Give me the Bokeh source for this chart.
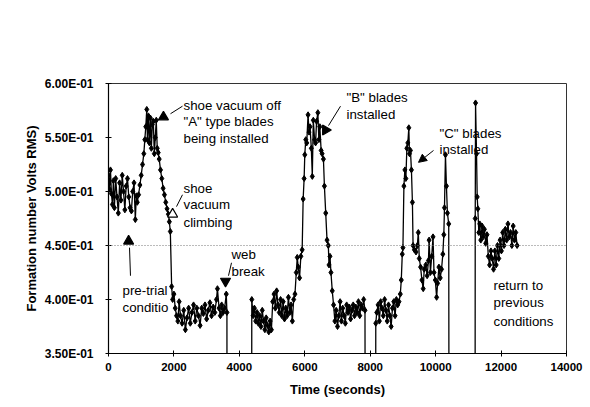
from bokeh.plotting import figure
from bokeh.models import (Range1d, FixedTicker, CustomJSTickFormatter, Span, ColumnDataSource,
                          Label, Arrow, NormalHead)
from bokeh.embed import file_html
from bokeh.resources import INLINE
import math

# ---------------- data (time in seconds, formation number in Volts RMS) ----------------
pretrial_t = [0, 30, 60, 90, 120, 150, 180, 220, 260, 300, 340, 380, 420, 460, 500, 540, 580,
              620, 660, 700, 740, 780, 820, 850, 880]
pretrial_v = [0.515, 0.502, 0.520, 0.498, 0.488, 0.510, 0.485, 0.512, 0.495, 0.480, 0.508, 0.492,
              0.515, 0.500, 0.483, 0.505, 0.512, 0.495, 0.485, 0.482, 0.500, 0.508, 0.474, 0.496, 0.490]

blades_a_t = [920, 960, 1000, 1040, 1080, 1110, 1140, 1170, 1190, 1220, 1250, 1280, 1310, 1340,
              1370, 1400, 1430, 1460, 1490, 1520, 1550, 1590, 1630, 1670, 1710, 1750, 1790, 1830,
              1860, 1890]
blades_a_v = [0.497, 0.506, 0.515, 0.525, 0.535, 0.548, 0.560, 0.576, 0.548, 0.570, 0.545, 0.568,
              0.540, 0.562, 0.565, 0.535, 0.550, 0.566, 0.540, 0.536, 0.530, 0.520, 0.512, 0.503,
              0.497, 0.490, 0.484, 0.479, 0.472, 0.463]

climb_t = [1930, 1960, 2000, 2040, 2080, 2120, 2160, 2200, 2250, 2300, 2350, 2400, 2450, 2500,
           2550, 2600, 2650, 2700, 2750, 2800, 2850, 2900, 2950, 3000, 3050, 3100, 3150, 3200,
           3250, 3300, 3330, 3380, 3420, 3460, 3500, 3550, 3600, 3620, 3630]
climb_v = [0.412, 0.400, 0.405, 0.392, 0.385, 0.380, 0.398, 0.385, 0.378, 0.390, 0.372, 0.383,
           0.392, 0.378, 0.388, 0.395, 0.380, 0.392, 0.385, 0.376, 0.392, 0.387, 0.395, 0.382,
           0.390, 0.397, 0.385, 0.393, 0.388, 0.400, 0.410, 0.392, 0.385, 0.395, 0.388, 0.392,
           0.405, 0.388, 0.0]

restart_t = [4370, 4380, 4420, 4460, 4500, 4540, 4580, 4620, 4660, 4700, 4740, 4780, 4820, 4860,
             4900, 4940, 4980, 5020, 5060, 5100, 5140, 5180, 5220, 5260, 5300, 5340, 5380, 5420,
             5460, 5500, 5540, 5580, 5620, 5660, 5700, 5740, 5770, 5800, 5840, 5880, 5920, 5950]
restart_v = [0.0, 0.400, 0.385, 0.392, 0.380, 0.388, 0.378, 0.385, 0.375, 0.390, 0.380, 0.372,
             0.383, 0.376, 0.370, 0.380, 0.372, 0.398, 0.405, 0.392, 0.408, 0.395, 0.388, 0.400,
             0.385, 0.398, 0.382, 0.392, 0.385, 0.402, 0.388, 0.395, 0.380, 0.400, 0.405, 0.425,
             0.439, 0.430, 0.420, 0.440, 0.446, 0.493]

blades_b_t = [5980, 6000, 6030, 6060, 6100, 6130, 6160, 6200, 6230, 6260, 6300, 6330, 6360, 6400,
              6430, 6460, 6500, 6530, 6570, 6600, 6640, 6680, 6720, 6740, 6770, 6800, 6840, 6880,
              6920, 6960, 7000]
blades_b_v = [0.512, 0.534, 0.548, 0.545, 0.571, 0.555, 0.560, 0.540, 0.514, 0.566, 0.548, 0.545,
              0.565, 0.573, 0.548, 0.560, 0.538, 0.535, 0.530, 0.505, 0.480, 0.455, 0.450, 0.432,
              0.440, 0.425, 0.408, 0.395, 0.380, 0.390, 0.375]

settle_t = [7040, 7080, 7120, 7160, 7200, 7240, 7280, 7320, 7360, 7400, 7440, 7480, 7520, 7560,
            7600, 7640, 7680, 7720, 7760, 7800, 7840, 7860]
settle_v = [0.385, 0.398, 0.380, 0.392, 0.385, 0.378, 0.395, 0.388, 0.393, 0.382, 0.390, 0.395,
            0.385, 0.393, 0.388, 0.398, 0.385, 0.395, 0.392, 0.400, 0.390, 0.0]

blades_c_t = [8160, 8170, 8200, 8240, 8280, 8320, 8360, 8400, 8440, 8480, 8520, 8560, 8600, 8640,
              8680, 8720, 8760, 8800, 8840, 8880, 8920, 8950, 8980, 9000, 9030, 9060, 9090, 9120,
              9150, 9180, 9200, 9230, 9260, 9290, 9310, 9350, 9400, 9440, 9470, 9500, 9540, 9580,
              9620, 9650, 9700, 9740, 9780, 9800, 9840, 9880, 9920, 9950, 9990, 10030, 10060,
              10100, 10140, 10180, 10220, 10250, 10270, 10300, 10330, 10360, 10400, 10420]
blades_c_v = [0.0, 0.378, 0.388, 0.395, 0.380, 0.398, 0.392, 0.385, 0.400, 0.390, 0.380, 0.395,
              0.385, 0.375, 0.392, 0.398, 0.385, 0.400, 0.395, 0.398, 0.405, 0.418, 0.442, 0.448,
              0.505, 0.520, 0.512, 0.540, 0.545, 0.559, 0.535, 0.538, 0.520, 0.490, 0.450, 0.446,
              0.444, 0.450, 0.462, 0.438, 0.430, 0.418, 0.410, 0.428, 0.432, 0.422, 0.436, 0.455,
              0.425, 0.440, 0.458, 0.425, 0.418, 0.402, 0.415, 0.430, 0.420, 0.428, 0.442, 0.460,
              0.485, 0.534, 0.505, 0.480, 0.470, 0.0]

return_t = [11200, 11210, 11220, 11250, 11270, 11290, 11320, 11350, 11380, 11420, 11450, 11490,
            11530, 11570, 11610, 11650, 11690, 11730, 11770, 11810, 11850, 11890, 11930, 11970,
            12010, 12050, 12090, 12130, 12170, 12210, 12250, 12290, 12330, 12370, 12410, 12450,
            12490]
return_v = [0.0, 0.475, 0.582, 0.535, 0.495, 0.484, 0.462, 0.470, 0.455, 0.468, 0.458, 0.465,
            0.452, 0.460, 0.440, 0.432, 0.445, 0.438, 0.428, 0.445, 0.432, 0.450, 0.438, 0.455,
            0.445, 0.462, 0.450, 0.465, 0.455, 0.470, 0.458, 0.462, 0.450, 0.468, 0.455, 0.462,
            0.450]

x_ticks = [0, 2000, 4000, 6000, 8000, 10000, 12000, 14000]
y_ticks = [0.35, 0.40, 0.45, 0.50, 0.55, 0.60]

# annotation markers
marker_t = [1680, 1960, 615, 3577, 6634]
marker_v = [0.569, 0.479, 0.454, 0.417, 0.557]
marker_angle = [0.0, 0.0, 0.0, math.pi, -math.pi / 2]
marker_fill = ["black", "white", "black", "black", "black"]

# leader lines from markers to notes
lead_t0 = [1895, 2079, 642, 3668, 6725]
lead_v0 = [0.572, 0.486, 0.448, 0.422, 0.561]
lead_t1 = [2262, 2262, 672, 3760, 7092]
lead_v1 = [0.579, 0.497, 0.422, 0.434, 0.579]

note_text = ["shoe vacuum off", '"A" type blades', "being installed",
             "shoe", "vacuum", "climbing",
             "pre-trial", "conditio",
             "web", "break",
             '"B" blades', "installed",
             '"C" blades', "installed",
             "return to", "previous", "conditions"]
note_t = [2293, 2293, 2293, 2293, 2293, 2293, 428, 428, 3760, 3760, 7275, 7275,
          10118, 10118, 11769, 11769, 11769]
note_v = [0.580, 0.565, 0.549, 0.503, 0.488, 0.471, 0.408, 0.393, 0.442, 0.426, 0.587, 0.571,
          0.554, 0.539, 0.413, 0.397, 0.380]

# ---------------- figure ----------------
FONT = "Liberation Sans"

p = figure(width=590, height=407, output_backend="svg", toolbar_location=None,
           x_range=Range1d(0, 14000), y_range=Range1d(0.35, 0.60),
           min_border_left=108, min_border_right=24, min_border_top=83, min_border_bottom=54)
p.background_fill_color = "white"
p.border_fill_color = "white"
p.outline_line_color = "#333333"
p.outline_line_width = 1
p.xgrid.visible = False
p.ygrid.visible = False

t_all = (pretrial_t + blades_a_t + climb_t + restart_t + blades_b_t + settle_t
         + blades_c_t + return_t)
v_all = (pretrial_v + blades_a_v + climb_v + restart_v + blades_b_v + settle_v
         + blades_c_v + return_v)
src = ColumnDataSource(dict(t=t_all, v=v_all))

p.add_layout(Span(location=0.45, dimension="width", line_color="#777777",
                  line_dash="1 2", line_width=1))

p.line("t", "v", source=src, line_color="black", line_width=1.3)
p.scatter("t", "v", source=src, marker="diamond", size=6, fill_color="black",
          line_color="black")

p.segment(x0=lead_t0, y0=lead_v0, x1=lead_t1, y1=lead_v1, line_color="black", line_width=1)
p.scatter(x=marker_t, y=marker_v, marker="triangle", size=10, angle=marker_angle,
          fill_color=marker_fill, line_color="black", line_width=1.2)

p.add_layout(Arrow(end=NormalHead(size=8, fill_color="black", line_color="black"),
                   x_start=9935, y_start=0.538, x_end=9476, y_end=0.527,
                   line_color="black", line_width=1))

for txt, tx, ty in zip(note_text, note_t, note_v):
    p.add_layout(Label(x=tx, y=ty, text=txt, text_font=FONT, text_font_size="13.3px",
                       text_baseline="middle", text_align="left", text_color="black"))

# axes
p.xaxis.ticker = FixedTicker(ticks=x_ticks)
p.yaxis.ticker = FixedTicker(ticks=y_ticks)
p.yaxis.formatter = CustomJSTickFormatter(code="""
const e = Math.floor(Math.log10(Math.abs(tick)) + 1e-9);
const m = (tick / Math.pow(10, e)).toFixed(2);
const a = Math.abs(e);
return m + "E" + (e < 0 ? "-" : "+") + (a < 10 ? "0" : "") + a;
""")
for ax in (p.xaxis[0], p.yaxis[0]):
    ax.axis_line_color = "black"
    ax.axis_line_width = 1.2
    ax.major_tick_line_color = "black"
    ax.major_tick_in = 3
    ax.major_tick_out = 3
    ax.minor_tick_line_color = None
    ax.major_label_text_font = FONT
    ax.major_label_text_font_style = "bold"
    ax.major_label_text_font_size = "11.5px"
    ax.major_label_text_color = "black"
    ax.axis_label_text_font = FONT
    ax.axis_label_text_font_style = "bold"
    ax.axis_label_text_font_size = "13px"
    ax.axis_label_text_color = "black"

p.yaxis.major_label_text_font_size = "12px"
p.xaxis.axis_label = "Time (seconds)"
p.yaxis.axis_label = "Formation number Volts RMS)"
p.xaxis.major_label_standoff = 6
p.xaxis.axis_label_standoff = 8
p.yaxis.major_label_standoff = 12
p.yaxis.axis_label_standoff = 3

open("out.html", "w").write(file_html(p, INLINE))
